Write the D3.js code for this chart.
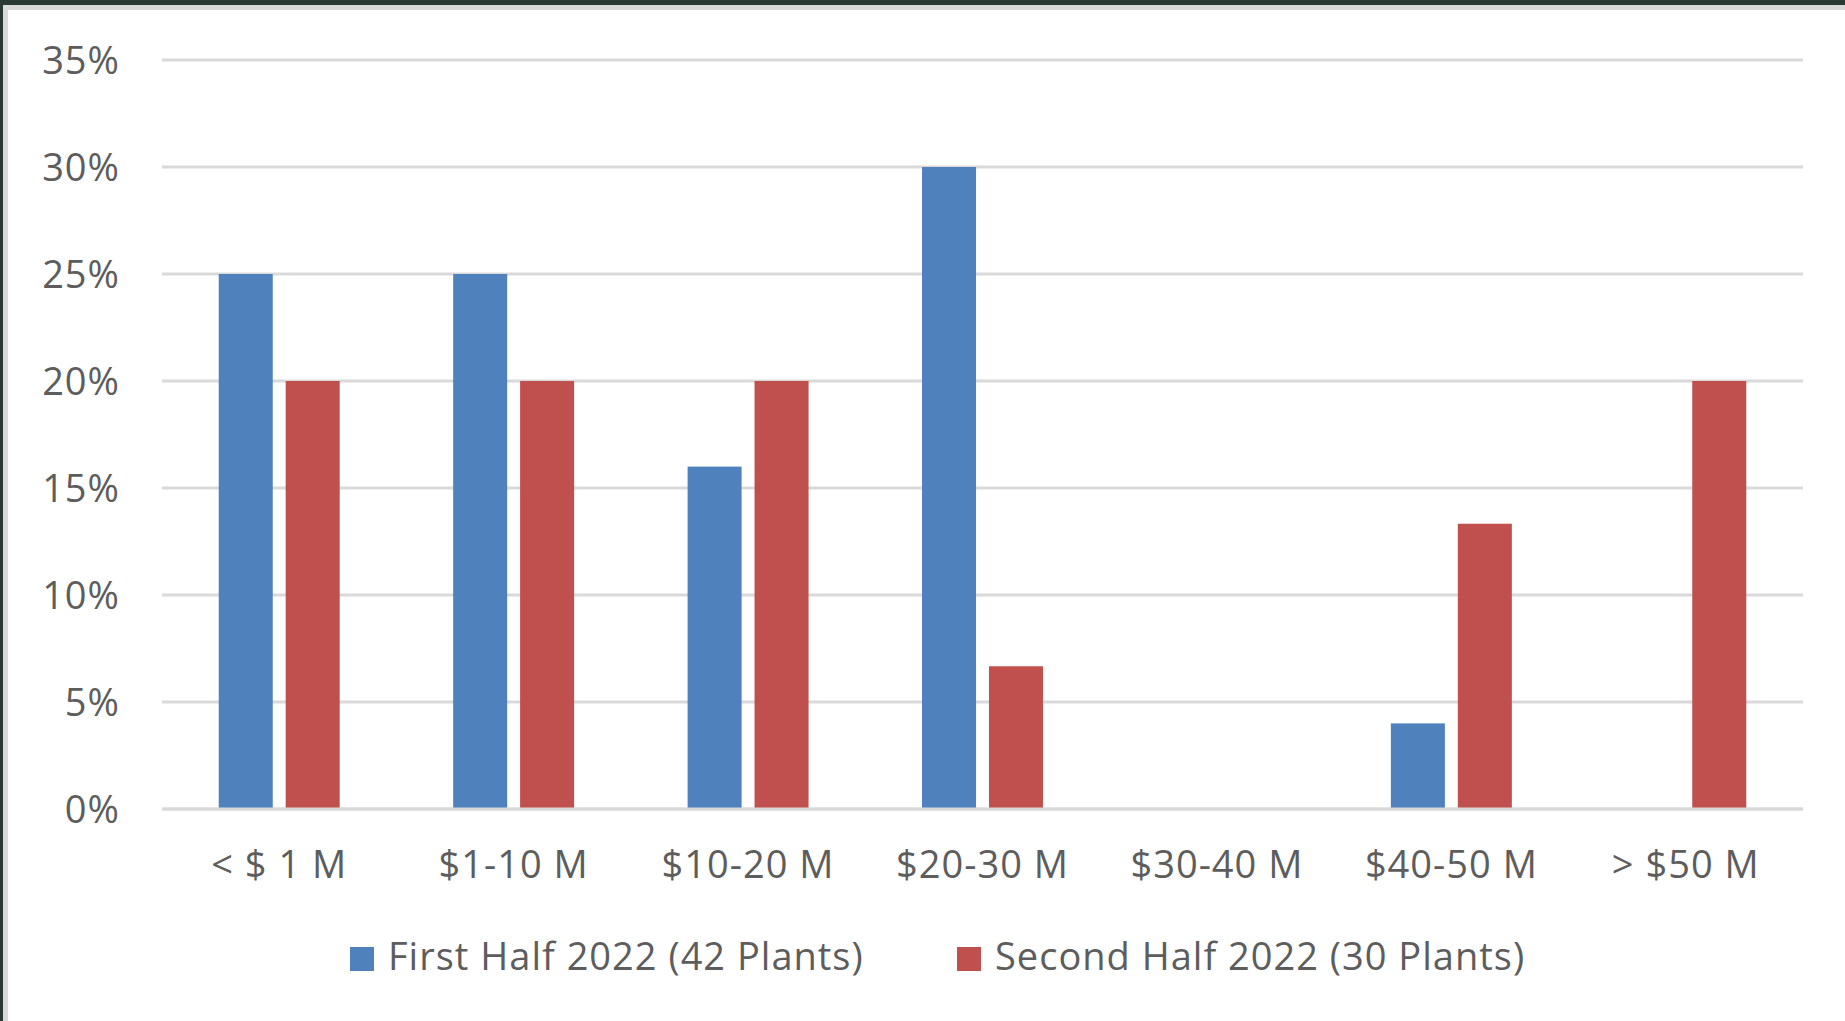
<!DOCTYPE html>
<html>
<head>
<meta charset="utf-8">
<script src="https://cdn.jsdelivr.net/npm/d3@7"></script>
<style>
  html, body { margin: 0; padding: 0; background: #2a3934; }
  svg { display: block; }
  text { font-family: "Open Sans", "Noto Sans", sans-serif; fill: #5d5d5d; letter-spacing: 1px; }
</style>
</head>
<body>
<svg id="chart" width="1845" height="1021"></svg>
<script>
// Capacity cost bands and the share of plants falling in each
const categories = ["< $ 1 M", "$1-10 M", "$10-20 M", "$20-30 M", "$30-40 M", "$40-50 M", "> $50 M"];
const seriesNames = ["First Half 2022 (42 Plants)", "Second Half 2022 (30 Plants)"];
const firstHalf = [0.25, 0.25, 0.16, 0.30, 0, 0.04, 0];
const secondHalf = [0.20, 0.20, 0.20, 0.0667, 0, 0.1333, 0.20];
const yTicks = [0, 0.05, 0.10, 0.15, 0.20, 0.25, 0.30, 0.35];
const colors = ["#4f81bd", "#c0504d"];

const svg = d3.select("#chart");
const W = 1845, H = 1021;

// frame: dark window edge, thin grey rim, white canvas
svg.append("rect").attr("width", W).attr("height", H).attr("fill", "#2a3934");
svg.append("rect").attr("x", 3).attr("y", 5).attr("width", W - 3).attr("height", H - 5).attr("fill", "#d9d9d9");
svg.append("rect").attr("x", 8).attr("y", 10).attr("width", W - 8).attr("height", H - 10).attr("fill", "#ffffff");

const plot = { left: 162, right: 1803, top: 60, bottom: 809 };

const x0 = d3.scaleBand()
  .domain(categories)
  .range([plot.left, plot.right])
  .paddingInner(0.484)
  .paddingOuter(0.242);

const x1 = d3.scaleBand()
  .domain(seriesNames)
  .range([0, x0.bandwidth()])
  .paddingInner(0.193)
  .paddingOuter(0);

const y = d3.scaleLinear().domain([0, 0.35]).range([plot.bottom, plot.top]);

// horizontal gridlines
svg.append("g")
  .selectAll("line")
  .data(yTicks)
  .join("line")
  .attr("x1", plot.left)
  .attr("x2", plot.right)
  .attr("y1", d => y(d))
  .attr("y2", d => y(d))
  .attr("stroke", "#d9d9d9")
  .attr("stroke-width", 3);

// y tick labels
const pct = d3.format(".0%");
svg.append("g")
  .selectAll("text")
  .data(yTicks)
  .join("text")
  .attr("x", 120)
  .attr("y", d => y(d))
  .attr("dy", "0.36em")
  .attr("text-anchor", "end")
  .style("font-size", "38px")
  .text(d => pct(d));

// clustered bars
const rows = categories.map((c, i) => ({ cat: c, vals: [firstHalf[i], secondHalf[i]] }));
const groups = svg.append("g")
  .selectAll("g")
  .data(rows)
  .join("g")
  .attr("transform", d => `translate(${x0(d.cat)},0)`);

groups.selectAll("rect")
  .data(d => d.vals.map((v, k) => ({ v, k })).filter(e => e.v > 0))
  .join("rect")
  .attr("x", d => x1(seriesNames[d.k]))
  .attr("width", x1.bandwidth())
  .attr("y", d => y(d.v))
  .attr("height", d => y(0) - y(d.v))
  .attr("fill", d => colors[d.k]);

// baseline drawn over the bar feet
svg.append("line")
  .attr("x1", plot.left).attr("x2", plot.right)
  .attr("y1", y(0)).attr("y2", y(0))
  .attr("stroke", "#d9d9d9").attr("stroke-width", 3);

// category labels
svg.append("g")
  .selectAll("text")
  .data(categories)
  .join("text")
  .attr("x", d => x0(d) + x0.bandwidth() / 2)
  .attr("y", 878)
  .attr("text-anchor", "middle")
  .style("font-size", "38px")
  .text(d => d);

// legend
const legendItems = [
  { name: seriesNames[0], color: colors[0], x: 350 },
  { name: seriesNames[1], color: colors[1], x: 957 }
];
const lg = svg.append("g")
  .selectAll("g")
  .data(legendItems)
  .join("g")
  .attr("transform", d => `translate(${d.x},0)`);
lg.append("rect")
  .attr("x", 0).attr("y", 947)
  .attr("width", 24).attr("height", 24)
  .attr("fill", d => d.color);
lg.append("text")
  .attr("x", 38).attr("y", 970)
  .style("font-size", "38px")
  .text(d => d.name);
</script>
</body>
</html>
